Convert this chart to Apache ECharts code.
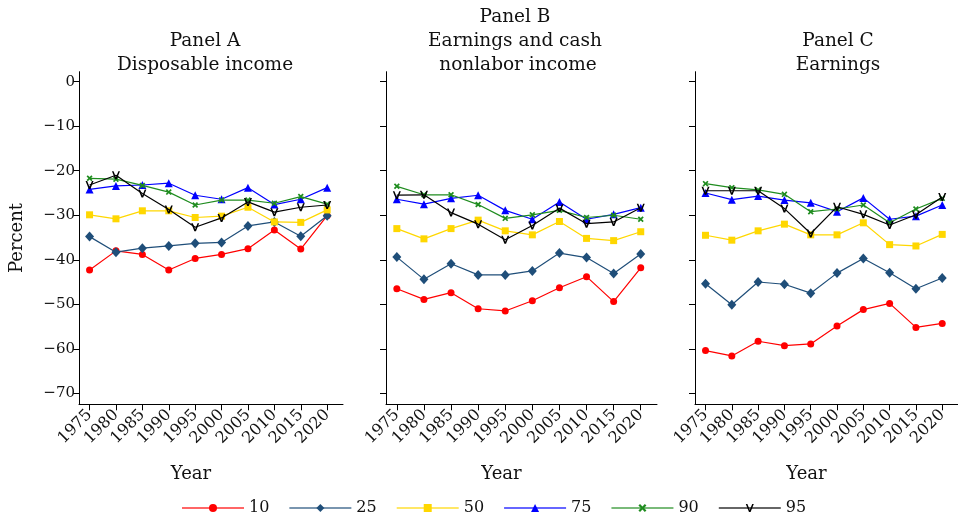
<!DOCTYPE html>
<html>
<head>
<meta charset="utf-8">
<script src="https://cdn.jsdelivr.net/npm/echarts@6/dist/echarts.min.js"></script>
<style>
html,body{margin:0;padding:0;background:#fff;}
#chart{width:958px;height:517px;}
</style>
</head>
<body>
<div id="chart"></div>
<script>
const years = [1975, 1980, 1985, 1990, 1995, 2000, 2005, 2010, 2015, 2020];
const percentiles = ['10', '25', '50', '75', '90', '95'];
const yTicks = [0, -10, -20, -30, -40, -50, -60, -70];

const panelTitles = ['Panel A\nDisposable income', 'Panel B\nEarnings and cash\n nonlabor income', 'Panel C\nEarnings'];

// Panel A: Disposable income
const a10 = [-42.3, -38.0, -38.8, -42.3, -39.7, -38.8, -37.5, -33.3, -37.6, -30.1];
const a25 = [-34.8, -38.3, -37.4, -36.9, -36.3, -36.1, -32.4, -31.5, -34.7, -30.1];
const a50 = [-29.9, -30.8, -29.0, -29.0, -30.5, -30.2, -28.2, -31.5, -31.6, -28.8];
const a75 = [-24.2, -23.4, -23.2, -22.8, -25.5, -26.4, -23.8, -27.6, -26.4, -23.8];
const a90 = [-21.7, -21.9, -23.3, -24.8, -27.7, -26.6, -26.6, -27.3, -25.8, -27.5];
const a95 = [-23.2, -21.0, -25.1, -28.7, -32.7, -30.6, -27.0, -29.3, -28.2, -27.7];

// Panel B: Earnings and cash nonlabor income
const b10 = [-46.5, -48.9, -47.4, -51.0, -51.5, -49.2, -46.3, -43.8, -49.4, -41.8];
const b25 = [-39.4, -44.4, -40.9, -43.4, -43.4, -42.5, -38.5, -39.5, -43.1, -38.7];
const b50 = [-33.0, -35.3, -33.0, -31.1, -33.5, -34.4, -31.4, -35.2, -35.7, -33.7];
const b75 = [-26.4, -27.5, -26.2, -25.5, -28.9, -30.9, -27.0, -30.9, -29.8, -28.3];
const b90 = [-23.5, -25.4, -25.4, -27.6, -30.7, -29.9, -28.9, -30.5, -30.0, -30.9];
const b95 = [-25.5, -25.4, -29.4, -32.0, -35.5, -32.3, -28.4, -31.9, -31.5, -28.3];

// Panel C: Earnings
const c10 = [-60.4, -61.6, -58.3, -59.3, -58.9, -54.9, -51.2, -49.8, -55.2, -54.3];
const c25 = [-45.4, -50.1, -45.0, -45.5, -47.5, -43.0, -39.7, -42.9, -46.5, -44.1];
const c50 = [-34.5, -35.6, -33.5, -32.0, -34.4, -34.4, -31.7, -36.6, -36.9, -34.3];
const c75 = [-25.0, -26.5, -25.7, -26.6, -27.2, -29.2, -26.1, -30.9, -30.2, -27.7];
const c90 = [-22.9, -23.8, -24.3, -25.3, -29.2, -28.6, -27.7, -31.7, -28.6, -26.2];
const c95 = [-24.5, -24.5, -24.5, -28.5, -34.1, -28.1, -29.8, -32.2, -29.9, -25.9];

const panels = [
  [a10, a25, a50, a75, a90, a95],
  [b10, b25, b50, b75, b90, b95],
  [c10, c25, c50, c75, c90, c95]
];

const FONT = 'DejaVu Serif';
const TXT = '#111';
const colors = ['#ff0000', '#1f4e79', '#ffd700', '#0000ff', '#1f8c1f', '#000000'];
const xPath = 'path://M0,2 L2,0 L5,3 L8,0 L10,2 L7,5 L10,8 L8,10 L5,7 L2,10 L0,8 L3,5 Z';
const vPath = 'path://M0,0 L2,0 L5,7.5 L8,0 L10,0 L6,10 L4,10 Z';
const symbols = ['circle', 'diamond', 'rect', 'triangle', xPath, vPath];
const symSizes = [7, [9, 10], 7, 8, 6, 8];

const grids = [
  { left: 79, top: 71.7, width: 264, height: 332.6 },
  { left: 386, top: 71.7, width: 271, height: 332.6 },
  { left: 695, top: 71.7, width: 268, height: 332.6 }
];
const titleX = [205, 515, 838];
const titleTop = [29, 5, 29];

const xAxes = grids.map((g, i) => ({
  type: 'value', gridIndex: i, min: 1973, max: 2023,
  name: 'Year', nameLocation: 'middle', nameGap: 61,
  nameTextStyle: { fontFamily: FONT, fontSize: 18, color: TXT, padding: [0, 40, 0, 0] },
  axisLine: { show: true, onZero: false, lineStyle: { color: '#000', width: 1 } },
  axisTick: { show: true, length: 6, customValues: years, lineStyle: { color: '#000' } },
  axisLabel: { customValues: years, rotate: 45, margin: 8, fontFamily: FONT, fontSize: 16, color: TXT,
    formatter: v => String(v) },
  splitLine: { show: false }
}));

const yAxes = grids.map((g, i) => ({
  type: 'value', gridIndex: i, min: -72.47, max: 2.25,
  name: i === 0 ? 'Percent' : '', nameLocation: 'middle', nameGap: 53,
  nameTextStyle: { fontFamily: FONT, fontSize: 18, color: TXT },
  axisLine: { show: true, onZero: false, lineStyle: { color: '#000', width: 1 } },
  axisTick: { show: true, length: 6, customValues: yTicks, lineStyle: { color: '#000' } },
  axisLabel: { show: i === 0, customValues: yTicks, margin: 4, fontFamily: FONT, fontSize: 15, color: TXT,
    formatter: v => (v < 0 ? '\u2212' + Math.abs(v) : String(v)) },
  splitLine: { show: false }
}));

const series = [];
panels.forEach((pData, pi) => {
  pData.forEach((vals, si) => {
    series.push({
      type: 'line', name: percentiles[si], xAxisIndex: pi, yAxisIndex: pi,
      data: years.map((y, k) => [y, vals[k]]),
      symbol: symbols[si], symbolSize: symSizes[si], symbolKeepAspect: true,
      lineStyle: { color: colors[si], width: 1.2 },
      itemStyle: { color: colors[si], borderWidth: 0 },
      emphasis: { disabled: true },
      animation: false, z: 2 + si
    });
  });
});

const chart = echarts.init(document.getElementById('chart'), null, { renderer: 'canvas' });
chart.setOption({
  backgroundColor: '#fff',
  animation: false,
  title: panelTitles.map((t, i) => ({
    text: t, left: titleX[i], top: titleTop[i], textAlign: 'center', padding: 0,
    textStyle: { fontFamily: FONT, fontSize: 18.5, fontWeight: 'normal', color: TXT, lineHeight: 24 }
  })),
  legend: {
    data: percentiles, left: 181, top: 500, padding: 0, itemWidth: 62, itemHeight: 10, itemGap: 19,
    textStyle: { fontFamily: FONT, fontSize: 16, color: TXT },
    lineStyle: { width: 2, opacity: 0.6 }
  },
  grid: grids,
  xAxis: xAxes,
  yAxis: yAxes,
  series: series
});
</script>
</body>
</html>
